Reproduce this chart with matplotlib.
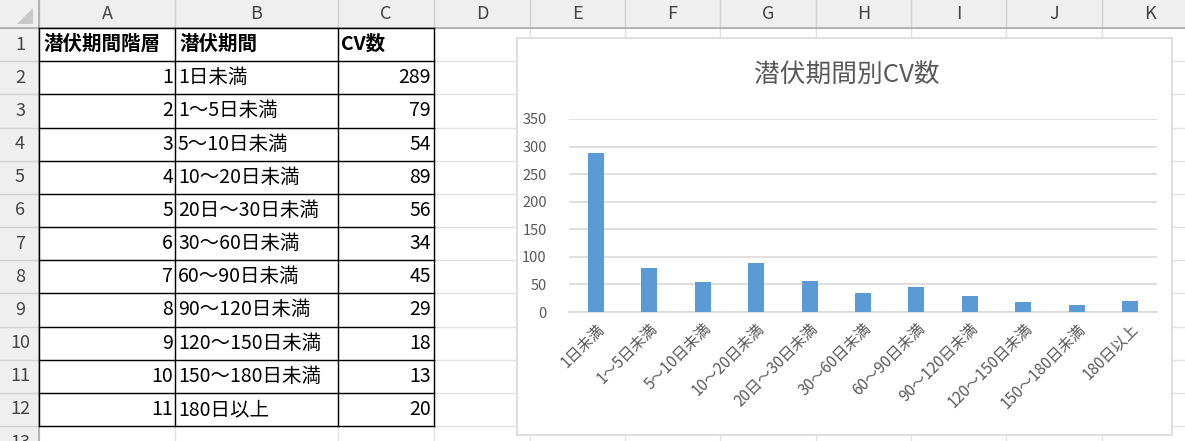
import matplotlib.pyplot as plt
from matplotlib.patches import Rectangle, Polygon

plt.rcParams['font.family'] = ['Noto Sans CJK JP', 'DejaVu Sans']

# sheet data
headers = ['潜伏期間階層', '潜伏期間', 'CV数']
tiers = [1, 2, 3, 4, 5, 6, 7, 8, 9, 10, 11]
periods = ['1日未満', '1〜5日未満', '5〜10日未満', '10〜20日未満', '20日〜30日未満',
           '30〜60日未満', '60〜90日未満', '90〜120日未満', '120〜150日未満',
           '150〜180日未満', '180日以上']
cv_counts = [289, 79, 54, 89, 56, 34, 45, 29, 18, 13, 20]
col_letters = ['A', 'B', 'C', 'D', 'E', 'F', 'G', 'H', 'I', 'J', 'K']
chart_title = '潜伏期間別CV数'

W, H = 1185, 441
fig = plt.figure(figsize=(W / 100, H / 100), dpi=100)
bg = fig.add_axes([0, 0, 1, 1])
bg.set_xlim(0, W)
bg.set_ylim(H, 0)
bg.axis('off')

# sheet geometry (pixels)
col_x = [0, 39, 175, 338, 434, 530, 625, 720, 816, 911, 1006, 1102, 1197]
head_h = 28
row_h = 33.17
row_y = [head_h + i * row_h for i in range(14)]

# headers background
bg.add_patch(Rectangle((0, 0), W, head_h, fc='#EFEFEF', ec='none'))
bg.add_patch(Rectangle((0, 0), col_x[1], H, fc='#EFEFEF', ec='none'))
bg.add_patch(Polygon([(33, 8), (33, 24), (17, 24)], closed=True, fc='#C8C8C8', ec='none'))

# light cell grid
for x in col_x[1:]:
    bg.plot([x, x], [0, head_h], color='#D0D0D0', lw=1)
    bg.plot([x, x], [head_h, H], color='#E1E1E1', lw=1)
for y in row_y:
    bg.plot([0, col_x[1]], [y, y], color='#D0D0D0', lw=1)
    bg.plot([col_x[1], W], [y, y], color='#E1E1E1', lw=1)
bg.plot([0, W], [head_h, head_h], color='#ABABAB', lw=1.2)
bg.plot([col_x[1], col_x[1]], [0, H], color='#ABABAB', lw=1.2)

# column letters and row numbers
for i, c in enumerate(col_letters):
    bg.text((col_x[i + 1] + col_x[i + 2]) / 2, 14, c, ha='center', va='center',
            fontsize=13, color='#444444')
for r in range(13):
    bg.text(20, (row_y[r] + row_y[r + 1]) / 2, str(r + 1), ha='center', va='center',
            fontsize=13, color='#444444')

# table
fs = 14
yc = (row_y[0] + row_y[1]) / 2
bg.text(col_x[1] + 4, yc, headers[0], ha='left', va='center', fontsize=fs, fontweight='bold')
bg.text(col_x[2] + 4, yc, headers[1], ha='left', va='center', fontsize=fs, fontweight='bold')
bg.text(col_x[3] + 3, yc, headers[2], ha='left', va='center', fontsize=fs, fontweight='bold')
for i in range(len(tiers)):
    yc = (row_y[i + 1] + row_y[i + 2]) / 2
    bg.text(col_x[2] - 2, yc, str(tiers[i]), ha='right', va='center', fontsize=fs)
    bg.text(col_x[2] + 3, yc, periods[i], ha='left', va='center', fontsize=fs)
    bg.text(col_x[4] - 3, yc, str(cv_counts[i]), ha='right', va='center', fontsize=fs)
for y in row_y[:13]:
    bg.plot([col_x[1], col_x[4]], [y, y], color='black', lw=1)
for x in col_x[1:5]:
    bg.plot([x, x], [row_y[0], row_y[12]], color='black', lw=1)

# chart frame
bg.add_patch(Rectangle((517, 38), 655, 397, fc='white', ec='#D9D9D9', lw=1.2, zorder=5))
bg.text(847, 76, chart_title, ha='center', va='center', fontsize=18.5, color='#595959', zorder=6)

# chart
ax = fig.add_axes([569 / W, (H - 312) / H, 588 / W, 193 / H])
ax.set_facecolor('none')
x = list(range(len(periods)))
ax.bar(x, cv_counts, width=0.3, color='#5B9BD5', zorder=3)
ax.set_xlim(-0.5, len(periods) - 0.5)
ax.set_ylim(0, 350)
ax.set_yticks(range(0, 351, 50))
ax.grid(axis='y', color='#D9D9D9', lw=1.2, zorder=0)
for s in ['top', 'right', 'left']:
    ax.spines[s].set_visible(False)
ax.spines['bottom'].set_color('#D9D9D9')
ax.spines['bottom'].set_linewidth(1.2)
ax.tick_params(length=0, colors='#595959')
ax.tick_params(axis='y', pad=16, labelsize=10.5)
ax.tick_params(axis='x', pad=6, labelsize=11)
ax.set_xticks(x)
ax.set_xticklabels(periods, rotation=45, ha='right', va='top', rotation_mode='anchor')

fig.savefig('out.png', dpi=100)
